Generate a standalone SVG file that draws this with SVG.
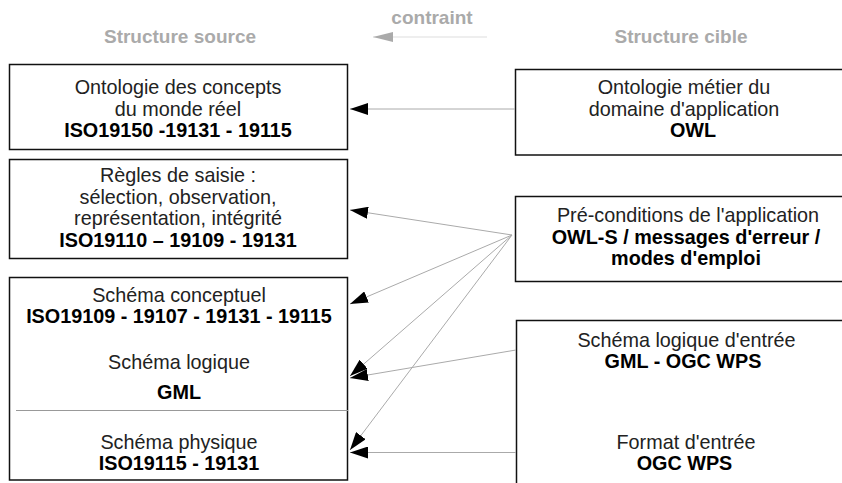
<svg xmlns="http://www.w3.org/2000/svg" width="842" height="483" viewBox="0 0 842 483">
<style>
.box{fill:#fff;stroke:#111;stroke-width:1.5}
.t{font-family:"Liberation Sans",Arial,sans-serif;font-size:19.8px;fill:#222;text-anchor:middle}
.b{font-weight:bold;fill:#000}
.h{font-family:"Liberation Sans",Arial,sans-serif;font-size:19px;font-weight:bold;fill:#aaa;text-anchor:middle}
.c{fill:none;stroke:#aaa;stroke-width:1}
</style>
<defs>
<marker id="ah" viewBox="0 0 18 12" refX="18" refY="6" markerWidth="18" markerHeight="12" markerUnits="userSpaceOnUse" orient="auto">
<path d="M0,0 L18,6 L0,12 z" fill="#000"/>
</marker>
<marker id="ahg" viewBox="0 0 20 10" refX="20" refY="5" markerWidth="20" markerHeight="10" markerUnits="userSpaceOnUse" orient="auto">
<path d="M0,0 L20,5 L0,10 z" fill="#aaa"/>
</marker>
</defs>
<rect width="842" height="483" fill="#fff"/>
<g id="headers">
<text class="h" x="180" y="43">Structure source</text>
<text class="h" x="681" y="43">Structure cible</text>
<text class="h" x="432" y="24">contraint</text>
<line x1="487" y1="37" x2="373" y2="37" stroke="#ddd" stroke-width="1" marker-end="url(#ahg)"/>
</g>
<g id="src-ontologie">
<rect class="box" x="9.5" y="64.5" width="338" height="85"/>
<text class="t" x="178" y="94">Ontologie des concepts</text>
<text class="t" x="178" y="115.5">du monde réel</text>
<text class="t b" x="178" y="137">ISO19150 -19131 - 19115</text>
</g>
<g id="src-regles">
<rect class="box" x="9.5" y="159.5" width="338" height="99"/>
<text class="t" x="178" y="182">Règles de saisie :</text>
<text class="t" x="178" y="203.5">sélection, observation,</text>
<text class="t" x="178" y="225">représentation, intégrité</text>
<text class="t b" x="178" y="247">ISO19110 – 19109 - 19131</text>
</g>
<g id="src-schemas">
<rect class="box" x="9.5" y="277.5" width="338" height="202.5"/>
<line x1="16" y1="410.5" x2="348" y2="410.5" stroke="#999" stroke-width="1"/>
<text class="t" x="179" y="301.5">Schéma conceptuel</text>
<text class="t b" x="179" y="322.5">ISO19109 - 19107 - 19131 - 19115</text>
<text class="t" x="179" y="369">Schéma logique</text>
<text class="t b" x="179" y="399">GML</text>
<text class="t" x="179" y="448.5">Schéma physique</text>
<text class="t b" x="179" y="469.5">ISO19115 - 19131</text>
</g>
<g id="cib-ontologie">
<rect class="box" x="515.5" y="69.5" width="340" height="85.5"/>
<text class="t" x="684" y="94">Ontologie métier du</text>
<text class="t" x="684" y="115.5">domaine d'application</text>
<text class="t b" x="693" y="137">OWL</text>
</g>
<g id="cib-preconditions">
<rect class="box" x="515.5" y="196.5" width="340" height="85"/>
<text class="t" x="688" y="222">Pré-conditions de l'application</text>
<text class="t b" x="686" y="243.5">OWL-S / messages d'erreur /</text>
<text class="t b" x="686" y="265">modes d'emploi</text>
</g>
<g id="cib-schemas">
<rect class="box" x="516.5" y="320.5" width="340" height="175"/>
<text class="t" x="686.5" y="346.5">Schéma logique d'entrée</text>
<text class="t b" x="683" y="367.5">GML - OGC WPS</text>
<text class="t" x="686" y="448.5">Format d'entrée</text>
<text class="t b" x="684.5" y="470">OGC WPS</text>
</g>
<g id="connectors">
<line class="c" x1="515" y1="109" x2="350" y2="109" marker-end="url(#ah)"/>
<line class="c" x1="512" y1="235" x2="350" y2="210" marker-end="url(#ah)"/>
<line class="c" x1="512" y1="235" x2="350" y2="304" marker-end="url(#ah)"/>
<line class="c" x1="512" y1="235" x2="350" y2="376" marker-end="url(#ah)"/>
<line class="c" x1="512" y1="235" x2="350" y2="450" marker-end="url(#ah)"/>
<line class="c" x1="516" y1="350" x2="350" y2="378" marker-end="url(#ah)"/>
<line class="c" x1="516" y1="452.5" x2="350" y2="452.5" marker-end="url(#ah)"/>
</g>
</svg>
